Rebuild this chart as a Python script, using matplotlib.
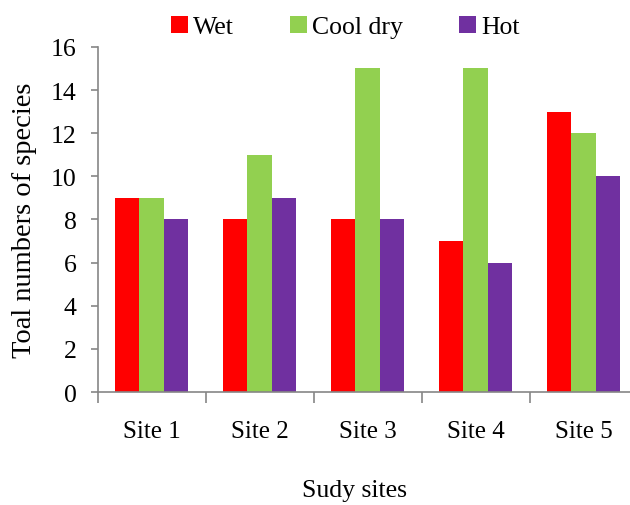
import numpy as np
import matplotlib.pyplot as plt

plt.rcParams['font.family'] = ['Liberation Serif', 'DejaVu Serif']

# data
sites = ['Site 1', 'Site 2', 'Site 3', 'Site 4', 'Site 5']
wet = [9, 8, 8, 7, 13]
cool_dry = [9, 11, 15, 15, 12]
hot = [8, 9, 8, 6, 10]
series_names = ['Wet', 'Cool dry', 'Hot']
colors = ['#FF0000', '#92D050', '#7030A0']

fig = plt.figure(figsize=(6.3, 5.06), dpi=100)
ax = fig.add_axes([0.155, 0.2233, 0.857, 0.682])

x = np.arange(len(sites))
w = 0.227
for i, (vals, name, c) in enumerate(zip([wet, cool_dry, hot], series_names, colors)):
    ax.bar(x + (i - 1) * w, vals, width=w, color=c, label=name, linewidth=0)

ax.set_xlim(-0.5, len(sites) - 0.5)
ax.set_ylim(0, 16)
ax.set_yticks(np.arange(0, 17, 2))

# ticks between groups, labels at group centres
ax.set_xticks(np.arange(-0.5, len(sites), 1.0))
ax.set_xticklabels([])
ax.set_xticks(x, minor=True)
ax.set_xticklabels(sites, minor=True)
ax.tick_params(axis='x', which='major', length=8, width=1.2, color='#868686')
ax.tick_params(axis='x', which='minor', length=0, pad=20, labelsize=18)
ax.tick_params(axis='y', length=5, width=1.2, color='#868686', pad=10, labelsize=18.5)

for s in ['top', 'right']:
    ax.spines[s].set_visible(False)
for s in ['left', 'bottom']:
    ax.spines[s].set_color('#868686')
    ax.spines[s].set_linewidth(1.2)

ax.set_ylabel('Toal numbers of species', fontsize=20.5, labelpad=10)
fig.text(0.563, 0.03, 'Sudy sites', fontsize=18.5, ha='center', va='center')

fig.legend(loc='center', bbox_to_anchor=(0.548, 0.945), ncol=3, frameon=False,
           fontsize=18.5, handlelength=0.65, handleheight=0.65, handletextpad=0.2,
           columnspacing=2.2)

fig.savefig('out.png', dpi=100)
